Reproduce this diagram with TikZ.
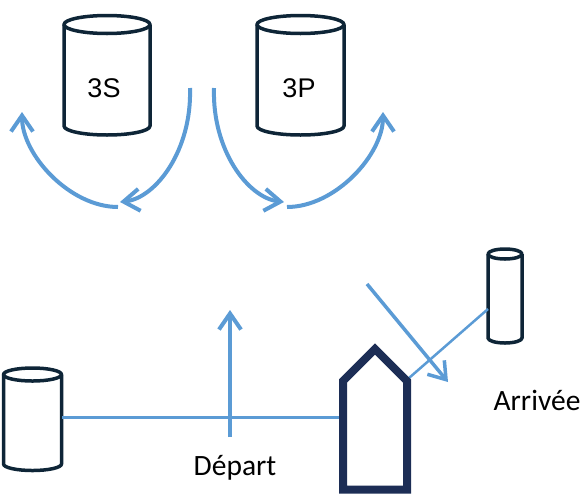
\documentclass[tikz,border=0pt]{standalone}
\usepackage{fontspec}
\setmainfont{Carlito}
\newfontfamily\arialf{Liberation Sans}
\usetikzlibrary{arrows.meta}
\definecolor{lblue}{HTML}{5B9BD5}
\definecolor{cyldark}{HTML}{0E2537}
\definecolor{navyc}{HTML}{1C2D55}
\tikzset{
  cylline/.style={draw=cyldark, line width=3.5pt, line join=round},
  flow/.style={draw=lblue, line width=4pt, -{Straight Barb[length=16pt,width=22pt]}},
  link/.style={draw=lblue, line width=3pt},
  lbl/.style={font=\fontsize{29.5}{33}\selectfont, inner sep=0pt},
  cyllbl/.style={font=\arialf\fontsize{27}{31}\selectfont, inner sep=0pt},
}
\newcommand\mycyl[5]{%
  \draw[cylline] (#1,#2) ellipse [x radius=#4pt, y radius=#5pt];
  \draw[cylline] (#1-#4,#2) -- (#1-#4,#3)
     arc[start angle=180, end angle=360, x radius=#4pt, y radius=#5pt] -- (#1+#4,#2);
}
\begin{document}
\begin{tikzpicture}[x=1pt, y=-1pt]
\useasboundingbox (0,0) rectangle (585,493);
% cylinders
\mycyl{107}{24.5}{126}{43}{9}
\mycyl{300.5}{24.5}{126}{43.5}{9}
\mycyl{32.5}{374.5}{464}{29}{6.5}
\mycyl{505}{254}{338}{17}{5}
\node[cyllbl] (s3) at (104,88) {3S};
\node[cyllbl] (p3) at (299,88) {3P};
% named points
\coordinate (a1s) at (190,88);
\coordinate (a1e) at (120,202);
\coordinate (a2s) at (118,207);
\coordinate (a2e) at (22,112);
\coordinate (b1s) at (214,88);
\coordinate (b1e) at (284,202);
\coordinate (b2s) at (287,207);
\coordinate (b2e) at (383,112);
\coordinate (lcyl) at (62,417);
\coordinate (hl) at (339,417);
\coordinate (dep0) at (230,437);
\coordinate (dep1) at (230,310);
\coordinate (arr0) at (367,284);
\coordinate (arr1) at (448,382);
\coordinate (rcyl) at (488,309);
\coordinate (shoulder) at (409,378);
% arcs
\draw[flow] (a1s) .. controls (192,150) and (156,198) .. (a1e);
\draw[flow] (a2s) .. controls (70,207) and (22,155) .. (a2e);
\draw[flow] (b1s) .. controls (212,150) and (248,198) .. (b1e);
\draw[flow] (b2s) .. controls (335,207) and (383,155) .. (b2e);
% bottom
\draw[link] (lcyl) -- (hl);
\draw[flow] (dep0) -- (dep1);
\draw[flow, line width=3.5pt] (arr0) -- (arr1);
\draw[link, line width=2.5pt] (rcyl) -- (shoulder);
\draw[navyc, line width=8pt, line join=miter] (343,489.5) -- (343,381) -- (375,349) -- (407,381) -- (407,489.5) -- cycle;
\node[lbl] (dep) at (235,468) {Départ};
\node[lbl] (arr) at (537,400) {Arrivée};
\end{tikzpicture}
\end{document}
